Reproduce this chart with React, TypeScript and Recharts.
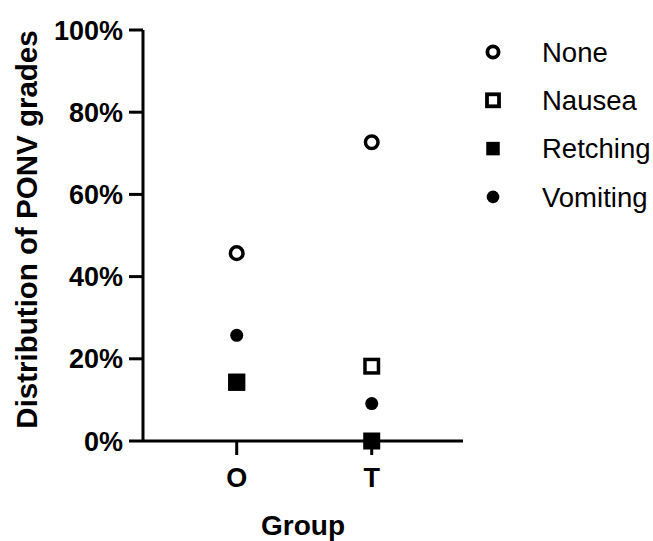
import React from 'react';
import { ScatterChart, Scatter, XAxis, YAxis, Legend } from 'recharts';

const groups = ['O', 'T'];
const noneValues = [45.7, 72.7];
const nauseaValues = [14.3, 18.2];
const retchingValues = [14.3, 0];
const vomitingValues = [25.7, 9.1];
const yTicks = [0, 20, 40, 60, 80, 100];
const seriesNames = ['None', 'Nausea', 'Retching', 'Vomiting'];

const FONT = '"Liberation Sans", Arial, Helvetica, sans-serif';

const toPoints = (values: number[]) => values.map((v, i) => ({ x: i, y: v, group: groups[i] }));

const OpenCircle = ({ cx, cy, r = 6.3, w = 3.5 }: any) => (
  <circle cx={cx} cy={cy} r={r} fill="#fff" stroke="#000" strokeWidth={w} />
);
const OpenSquare = ({ cx, cy, s = 13.5, w = 3.5 }: any) => (
  <rect x={cx - s / 2} y={cy - s / 2} width={s} height={s} fill="#fff" stroke="#000" strokeWidth={w} />
);
const FilledSquare = ({ cx, cy, s = 17 }: any) => (
  <rect x={cx - s / 2} y={cy - s / 2} width={s} height={s} fill="#000" />
);
const FilledCircle = ({ cx, cy, r = 6.5 }: any) => <circle cx={cx} cy={cy} r={r} fill="#000" />;

const renderLegend = () => (
  <svg width={175} height={200} style={{ display: 'block' }}>
    {seriesNames.map((name, i) => {
      const cy = 28 + i * 48.3;
      const cx = 15;
      let mark;
      if (i === 0) mark = <OpenCircle cx={cx} cy={cy} r={5.6} w={3.8} />;
      else if (i === 1) mark = <OpenSquare cx={cx} cy={cy} s={12} w={3.8} />;
      else if (i === 2) mark = <FilledSquare cx={cx} cy={cy} s={13.5} />;
      else mark = <FilledCircle cx={cx} cy={cy} r={6.3} />;
      return (
        <g key={name}>
          {mark}
          <text x={64} y={cy} dy="0.35em" fontFamily={FONT} fontSize={27.5} fill="#000">
            {name}
          </text>
        </g>
      );
    })}
  </svg>
);

export default function App() {
  return (
    <div style={{ position: 'absolute', left: 0, top: 0, background: '#fff' }}>
      <ScatterChart width={653} height={541} margin={{ top: 30, right: 190, bottom: 0, left: 0 }}>
        <XAxis
          type="number"
          dataKey="x"
          domain={[-0.694, 1.676]}
          ticks={[0, 1]}
          allowDataOverflow
          tickFormatter={(v: number) => groups[v] ?? ''}
          height={100}
          tickSize={14}
          tickMargin={13}
          axisLine={{ stroke: '#000', strokeWidth: 3 }}
          tickLine={{ stroke: '#000', strokeWidth: 3 }}
          tick={{ fill: '#000', fontSize: 27, fontWeight: 'bold', fontFamily: FONT }}
          label={{
            content: ({ viewBox }: any) => (
              <text
                x={viewBox.x + viewBox.width / 2}
                y={viewBox.y + 94}
                textAnchor="middle"
                fontFamily={FONT}
                fontSize={28}
                fontWeight="bold"
                fill="#000"
              >
                Group
              </text>
            ),
          }}
        />
        <YAxis
          type="number"
          dataKey="y"
          domain={[0, 100]}
          ticks={yTicks}
          interval={0}
          width={143}
          tickFormatter={(v: number) => `${v}%`}
          tickSize={14}
          tickMargin={6}
          axisLine={{ stroke: '#000', strokeWidth: 3 }}
          tickLine={{ stroke: '#000', strokeWidth: 3 }}
          tick={{ fill: '#000', fontSize: 27, fontWeight: 'bold', fontFamily: FONT }}
          label={{
            content: ({ viewBox }: any) => {
              const x = 37;
              const y = viewBox.y + viewBox.height / 2 - 6;
              return (
                <text
                  x={x}
                  y={y}
                  transform={`rotate(-90, ${x}, ${y})`}
                  textAnchor="middle"
                  fontFamily={FONT}
                  fontSize={29.5}
                  fontWeight="bold"
                  fill="#000"
                >
                  Distribution of PONV grades
                </text>
              );
            },
          }}
        />
        <Legend
          layout="vertical"
          align="center"
          verticalAlign="middle"
          content={renderLegend}
          wrapperStyle={{ left: 478, top: 24, width: 175 }}
        />
        <Scatter
          name="None"
          data={toPoints(noneValues)}
          isAnimationActive={false}
          shape={(p: any) => <OpenCircle cx={p.cx} cy={p.cy} />}
        />
        <Scatter
          name="Nausea"
          data={toPoints(nauseaValues)}
          isAnimationActive={false}
          shape={(p: any) => <OpenSquare cx={p.cx} cy={p.cy} />}
        />
        <Scatter
          name="Retching"
          data={toPoints(retchingValues)}
          isAnimationActive={false}
          shape={(p: any) => <FilledSquare cx={p.cx} cy={p.cy} />}
        />
        <Scatter
          name="Vomiting"
          data={toPoints(vomitingValues)}
          isAnimationActive={false}
          shape={(p: any) => <FilledCircle cx={p.cx} cy={p.cy} />}
        />
      </ScatterChart>
    </div>
  );
}
